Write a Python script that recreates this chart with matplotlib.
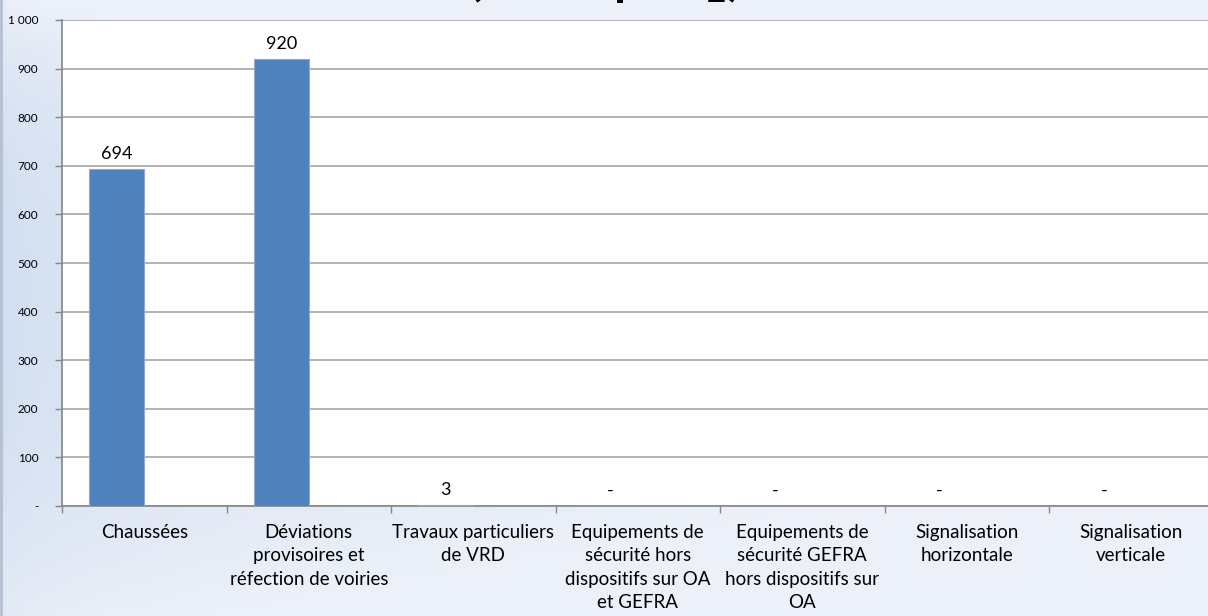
import numpy as np
import matplotlib
matplotlib.use("Agg")
import matplotlib.pyplot as plt
from matplotlib.ticker import FuncFormatter, FixedLocator

plt.rcParams['font.family'] = ['Lato', 'DejaVu Sans']
plt.rcParams['mathtext.fontset'] = 'custom'
plt.rcParams['mathtext.rm'] = 'Lato'
plt.rcParams['mathtext.bf'] = 'Lato:bold'

# data
categories = [
    "Chaussées",
    "Déviations\nprovisoires et\nréfection de voiries",
    "Travaux particuliers\nde VRD",
    "Equipements de\nsécurité hors\ndispositifs sur OA\net GEFRA",
    "Equipements de\nsécurité GEFRA\nhors dispositifs sur\nOA",
    "Signalisation\nhorizontale",
    "Signalisation\nverticale",
]
values = [694, 920, 3, 0, 0, 0, 0]
yticks = [0, 100, 200, 300, 400, 500, 600, 700, 800, 900, 1000]

fig = plt.figure(figsize=(12.08, 6.16), dpi=100)

# background gradient of the chart area
bg = fig.add_axes([0, 0, 1, 1], zorder=-5)
xx, yy = np.meshgrid(np.linspace(0, 1, 200), np.linspace(0, 1, 100))
dark = np.array([196, 212, 236]) / 255
light = np.array([236, 241, 249]) / 255
t = 0.3 + 0.6 * xx ** 0.5
t = t + 0.6 * (1 - yy) ** 6 + 0.45 * yy ** 4
t = np.clip(t, 0, 1)
img = dark[None, None, :] * (1 - t[..., None]) + light[None, None, :] * t[..., None]
bg.imshow(img, aspect='auto', extent=[0, 1, 0, 1], origin='upper')
bg.axvline(0.0005, color='#b4c0d2', linewidth=2)
bg.set_xlim(0, 1)
bg.axis('off')

# cut-off title, only its lower part shows
fig.text(0.5, 1 + 5 / 616, r"(en t eq CO$_\mathbf{2}$)", ha='center', va='baseline',
         fontsize=34, fontweight='bold', color='black')

ax = fig.add_axes([62 / 1208, 110 / 616, 1151.5 / 1208, 486 / 616])
ax.set_facecolor('white')
x = np.arange(len(categories))
ax.bar(x - 1 / 6, values, width=1 / 3, color='#4f81bd', edgecolor='#8eaad3',
       linewidth=0.8, zorder=3)

for xi, v in zip(x, values):
    label = f"{v:,}".replace(",", " ") if v else "-"
    ax.annotate(label, (xi - 1 / 6, v), xytext=(0, 5), textcoords='offset points',
                ha='center', va='bottom', fontsize=13, color='black')

ax.set_xlim(-0.5, 6.5)
ax.set_ylim(0, 1000)
ax.set_yticks(yticks)
ax.yaxis.set_major_formatter(FuncFormatter(
    lambda v, p: "-" if v == 0 else f"{int(v):,}".replace(",", " ")))
ax.grid(axis='y', color='#a6a6a6', linewidth=1.2, zorder=0)
ax.set_axisbelow(True)

ax.set_xticks(x)
ax.set_xticklabels(categories, fontsize=13.5, linespacing=1.45, va='top')
ax.xaxis.set_minor_locator(FixedLocator(np.arange(-0.5, 7, 1)))
ax.tick_params(axis='x', which='major', length=0, pad=13)
ax.tick_params(axis='x', which='minor', length=5, color='#868686', width=1)
ax.tick_params(axis='y', length=5, color='#868686', width=1, pad=12, labelsize=8.5)

for s in ['top', 'right']:
    ax.spines[s].set_visible(False)
ax.spines['left'].set_color('#868686')
ax.spines['bottom'].set_color('#868686')
ax.spines['left'].set_linewidth(1.2)
ax.spines['bottom'].set_linewidth(1.2)

fig.savefig("out.png", dpi=100)
